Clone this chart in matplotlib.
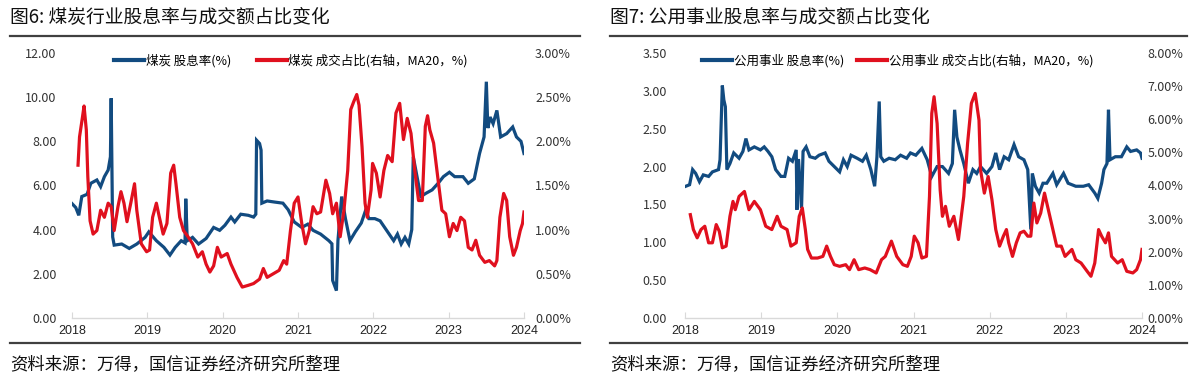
import matplotlib
matplotlib.use("Agg")
import matplotlib.pyplot as plt
from matplotlib.lines import Line2D
from matplotlib.ticker import FuncFormatter, MultipleLocator
import numpy as np

plt.rcParams['font.family'] = ['Noto Sans CJK SC', 'DejaVu Sans']

# ---- coal: dividend yield (left axis, %) ----
coal_div_t = [2018.00, 2018.05, 2018.09, 2018.13, 2018.20, 2018.25, 2018.33, 2018.38, 2018.43, 2018.48,
              2018.51, 2018.52, 2018.54, 2018.56, 2018.66, 2018.76, 2018.86, 2018.97, 2019.02, 2019.12,
              2019.22, 2019.30, 2019.37, 2019.45, 2019.50, 2019.51, 2019.53, 2019.60, 2019.68, 2019.78,
              2019.88, 2019.96, 2020.03, 2020.11, 2020.16, 2020.24, 2020.34, 2020.41, 2020.44, 2020.45,
              2020.49, 2020.51, 2020.52, 2020.59, 2020.69, 2020.80, 2020.87, 2020.95, 2021.05, 2021.13,
              2021.20, 2021.30, 2021.41, 2021.45, 2021.46, 2021.51, 2021.53, 2021.58, 2021.63, 2021.69,
              2021.76, 2021.84, 2021.90, 2021.94, 2022.02, 2022.09, 2022.17, 2022.27, 2022.32, 2022.37,
              2022.42, 2022.47, 2022.51, 2022.53, 2022.58, 2022.63, 2022.70, 2022.78, 2022.86, 2022.93,
              2023.01, 2023.08, 2023.19, 2023.26, 2023.34, 2023.41, 2023.47, 2023.50, 2023.52, 2023.55,
              2023.59, 2023.64, 2023.69, 2023.77, 2023.85, 2023.90, 2023.96, 2024.00]
coal_div = [5.18, 5.0, 4.65, 5.5, 5.6, 6.1, 6.25, 5.95, 6.4, 6.7,
            7.3, 9.95, 3.67, 3.3, 3.35, 3.15, 3.35, 3.65, 3.9, 3.5,
            3.2, 2.85, 3.2, 3.5, 3.4, 5.4, 3.5, 3.65, 3.35, 3.6,
            4.1, 3.97, 4.2, 4.57, 4.35, 4.7, 4.65, 4.57, 4.7, 8.05,
            7.9, 7.6, 5.2, 5.3, 5.25, 5.2, 4.9, 4.35, 4.1, 4.25,
            3.97, 3.8, 3.5, 3.36, 1.7, 1.24, 3.5, 5.5, 4.5, 3.5,
            3.9, 4.3, 4.9, 4.5, 4.5, 4.4, 4.0, 3.5, 3.8, 3.35,
            3.65, 3.35, 4.0, 7.3, 6.4, 5.5, 5.65, 5.8, 6.1, 6.4,
            6.6, 6.4, 6.4, 6.1, 6.3, 7.45, 8.2, 10.7, 8.6, 9.1,
            8.8, 9.4, 8.2, 8.35, 8.65, 8.2, 8.0, 7.45]

# ---- coal: turnover share (right axis, MA20, %) ----
coal_vol_t = [2018.08, 2018.10, 2018.14, 2018.16, 2018.19, 2018.21, 2018.24, 2018.28, 2018.33, 2018.38,
              2018.43, 2018.48, 2018.52, 2018.56, 2018.61, 2018.65, 2018.69, 2018.73, 2018.78, 2018.83,
              2018.86, 2018.92, 2018.99, 2019.03, 2019.07, 2019.12, 2019.16, 2019.21, 2019.26, 2019.31,
              2019.35, 2019.38, 2019.43, 2019.48, 2019.54, 2019.60, 2019.67, 2019.73, 2019.78, 2019.83,
              2019.88, 2019.93, 2019.98, 2020.06, 2020.11, 2020.19, 2020.26, 2020.34, 2020.41, 2020.49,
              2020.54, 2020.59, 2020.67, 2020.75, 2020.81, 2020.85, 2020.90, 2020.95, 2021.00, 2021.05,
              2021.10, 2021.15, 2021.20, 2021.25, 2021.30, 2021.37, 2021.42, 2021.46, 2021.51, 2021.56,
              2021.61, 2021.66, 2021.70, 2021.74, 2021.78, 2021.81, 2021.85, 2021.89, 2021.92, 2021.97,
              2021.99, 2022.04, 2022.09, 2022.14, 2022.19, 2022.25, 2022.30, 2022.35, 2022.40, 2022.45,
              2022.50, 2022.55, 2022.60, 2022.65, 2022.69, 2022.72, 2022.75, 2022.80, 2022.86, 2022.91,
              2022.96, 2023.01, 2023.06, 2023.11, 2023.16, 2023.21, 2023.26, 2023.31, 2023.36, 2023.41,
              2023.48, 2023.54, 2023.61, 2023.64, 2023.68, 2023.73, 2023.77, 2023.81, 2023.86, 2023.90,
              2023.95, 2023.98, 2024.00]
coal_vol = [1.73, 2.05, 2.28, 2.40, 2.13, 1.6, 1.1, 0.95, 0.99, 1.22,
            1.14, 1.3, 1.26, 0.99, 1.26, 1.43, 1.3, 1.09, 1.3, 1.52,
            1.22, 0.84, 0.75, 0.77, 1.14, 1.3, 1.14, 0.95, 1.07, 1.64,
            1.73, 1.52, 1.14, 0.99, 0.92, 0.84, 0.69, 0.75, 0.61, 0.52,
            0.59, 0.80, 0.69, 0.73, 0.61, 0.46, 0.35, 0.37, 0.39, 0.44,
            0.56, 0.46, 0.5, 0.54, 0.65, 0.61, 0.99, 1.3, 1.37, 1.07,
            0.84, 0.99, 1.26, 1.18, 1.2, 1.56, 1.41, 1.18, 1.3, 0.92,
            1.22, 1.67, 2.36, 2.45, 2.53, 2.41, 1.94, 1.3, 1.14, 1.45,
            1.75, 1.64, 1.37, 1.67, 1.84, 1.77, 2.32, 2.43, 2.02, 2.26,
            2.09, 1.67, 1.33, 1.33, 2.17, 2.29, 2.13, 1.98, 1.56, 1.22,
            1.18, 0.92, 1.07, 0.99, 1.14, 1.1, 0.8, 0.77, 0.88, 0.71,
            0.63, 0.65, 0.59, 0.65, 1.14, 1.41, 1.33, 0.92, 0.71, 0.8,
            0.99, 1.07, 1.2]

# ---- utilities: dividend yield (left axis, %) ----
util_div_t = [2018.01, 2018.06, 2018.10, 2018.14, 2018.19, 2018.24, 2018.31, 2018.36, 2018.44, 2018.46,
              2018.49, 2018.51, 2018.53, 2018.55, 2018.59, 2018.64, 2018.71, 2018.76, 2018.80, 2018.84,
              2018.91, 2018.99, 2019.04, 2019.09, 2019.14, 2019.19, 2019.26, 2019.31, 2019.36, 2019.41,
              2019.46, 2019.47, 2019.49, 2019.53, 2019.55, 2019.59, 2019.64, 2019.71, 2019.76, 2019.84,
              2019.89, 2019.96, 2020.03, 2020.08, 2020.13, 2020.18, 2020.26, 2020.33, 2020.38, 2020.44,
              2020.49, 2020.52, 2020.55, 2020.57, 2020.61, 2020.68, 2020.76, 2020.83, 2020.91, 2020.96,
              2021.03, 2021.11, 2021.18, 2021.24, 2021.31, 2021.38, 2021.46, 2021.51, 2021.54, 2021.57,
              2021.61, 2021.66, 2021.72, 2021.78, 2021.83, 2021.88, 2021.96, 2022.03, 2022.08, 2022.13,
              2022.19, 2022.25, 2022.32, 2022.38, 2022.45, 2022.50, 2022.54, 2022.56, 2022.60, 2022.65,
              2022.70, 2022.75, 2022.83, 2022.88, 2022.97, 2023.03, 2023.13, 2023.23, 2023.30, 2023.38,
              2023.42, 2023.47, 2023.50, 2023.54, 2023.56, 2023.58, 2023.65, 2023.73, 2023.80, 2023.85,
              2023.93, 2023.98, 2024.00]
util_div = [1.74, 1.76, 1.96, 1.91, 1.80, 1.89, 1.87, 1.93, 1.96, 2.09,
            3.07, 2.88, 2.79, 1.96, 2.04, 2.18, 2.11, 2.20, 2.37, 2.22,
            2.26, 2.22, 2.26, 2.20, 2.13, 1.96, 1.87, 1.87, 2.11, 2.07,
            2.22, 1.43, 2.10, 1.45, 2.20, 2.26, 2.13, 2.11, 2.15, 2.18,
            2.07, 2.00, 1.93, 2.09, 2.00, 2.15, 2.11, 2.07, 2.15, 1.96,
            1.74, 2.13, 2.86, 2.13, 2.07, 2.11, 2.09, 2.15, 2.11, 2.18,
            2.15, 2.24, 2.09, 1.87, 2.00, 2.00, 1.91, 2.04, 2.75, 2.39,
            2.22, 2.04, 1.78, 1.96, 1.91, 2.00, 1.91, 2.00, 2.18, 1.96,
            2.13, 2.09, 2.29, 2.13, 2.09, 1.96, 1.17, 1.91, 1.74, 1.65,
            1.78, 1.78, 1.91, 1.76, 1.91, 1.78, 1.74, 1.74, 1.76, 1.65,
            1.58, 1.78, 1.96, 2.04, 2.75, 2.09, 2.13, 2.13, 2.26, 2.20,
            2.22, 2.18, 2.11]

# ---- utilities: turnover share (right axis, MA20, %) ----
util_vol_t = [2018.07, 2018.11, 2018.16, 2018.21, 2018.26, 2018.31, 2018.36, 2018.41, 2018.45, 2018.49,
              2018.54, 2018.59, 2018.63, 2018.66, 2018.71, 2018.78, 2018.84, 2018.91, 2018.99, 2019.06,
              2019.14, 2019.21, 2019.26, 2019.34, 2019.39, 2019.46, 2019.50, 2019.54, 2019.58, 2019.61,
              2019.66, 2019.74, 2019.81, 2019.86, 2019.91, 2019.96, 2020.03, 2020.11, 2020.16, 2020.22,
              2020.28, 2020.36, 2020.43, 2020.51, 2020.58, 2020.63, 2020.71, 2020.78, 2020.86, 2020.92,
              2020.97, 2021.01, 2021.06, 2021.11, 2021.17, 2021.21, 2021.24, 2021.27, 2021.31, 2021.35,
              2021.38, 2021.42, 2021.47, 2021.53, 2021.59, 2021.66, 2021.71, 2021.76, 2021.81, 2021.86,
              2021.88, 2021.93, 2021.98, 2022.03, 2022.08, 2022.13, 2022.18, 2022.22, 2022.25, 2022.30,
              2022.35, 2022.40, 2022.45, 2022.50, 2022.54, 2022.58, 2022.62, 2022.67, 2022.72, 2022.77,
              2022.83, 2022.88, 2022.94, 2022.99, 2023.08, 2023.13, 2023.20, 2023.28, 2023.33, 2023.38,
              2023.43, 2023.47, 2023.52, 2023.56, 2023.60, 2023.68, 2023.74, 2023.80, 2023.88, 2023.93,
              2023.98, 2024.00]
util_vol = [3.12, 2.67, 2.42, 2.67, 2.77, 2.27, 2.27, 2.82, 2.62, 2.12,
            2.17, 3.07, 3.52, 3.27, 3.67, 3.82, 3.27, 3.52, 3.27, 2.77,
            2.67, 3.07, 2.77, 2.67, 2.17, 2.27, 3.07, 3.32, 2.67, 2.07,
            1.81, 1.81, 1.86, 2.17, 1.86, 1.61, 1.56, 1.61, 1.46, 1.76,
            1.46, 1.51, 1.46, 1.36, 1.76, 1.86, 2.32, 1.86, 1.61, 1.56,
            1.86, 2.47, 2.27, 1.81, 1.86, 3.67, 6.18, 6.68, 5.87, 3.87,
            3.07, 3.37, 2.77, 3.07, 2.37, 3.67, 5.27, 6.48, 6.78, 5.97,
            4.47, 3.77, 4.27, 3.57, 2.67, 2.17, 2.47, 2.67, 2.27, 1.86,
            2.27, 2.57, 2.62, 2.47, 2.47, 3.47, 2.87, 3.17, 3.77, 3.27,
            2.67, 2.17, 2.17, 1.86, 2.07, 1.76, 1.66, 1.41, 1.26, 1.66,
            2.67, 2.47, 2.27, 2.57, 1.86, 1.66, 1.76, 1.41, 1.36, 1.46,
            1.76, 2.07]

years = [2018, 2019, 2020, 2021, 2022, 2023, 2024]

BLUE = '#124b80'
RED = '#e0101e'
W, H = 1195, 379

fig = plt.figure(figsize=(W / 100, H / 100), dpi=100)


def panel(px0, px1, line_x0, line_x1, title, name, div_t, div, vol_t, vol,
          lmax, lstep, rmax, rstep, lpad, rpad, leg_x, colsp):
    ax = fig.add_axes([px0 / W, 1 - 318 / H, (px1 - px0) / W, (318 - 53) / H])
    ax2 = ax.twinx()
    ax.plot(div_t, div, color=BLUE, lw=2.3, solid_joinstyle='miter')
    ax2.plot(vol_t, vol, color=RED, lw=2.3)

    ax.set_xlim(2018, 2024)
    ax.set_ylim(0, lmax)
    ax2.set_ylim(0, rmax)
    ax.yaxis.set_major_locator(MultipleLocator(lstep))
    ax2.yaxis.set_major_locator(MultipleLocator(rstep))
    ax.yaxis.set_major_formatter(FuncFormatter(lambda v, p: '%.2f' % v))
    ax2.yaxis.set_major_formatter(FuncFormatter(lambda v, p: '%.2f%%' % v))
    ax.set_xticks(years)
    ax.set_xticklabels([str(y) for y in years])

    for a in (ax, ax2):
        for s in ('top', 'left', 'right'):
            a.spines[s].set_visible(False)
    ax2.spines['bottom'].set_visible(False)
    ax.spines['bottom'].set_color('#d9d9d9')
    ax.spines['bottom'].set_linewidth(1.0)
    ax.tick_params(axis='x', direction='in', length=4, color='#d9d9d9',
                   labelsize=9, pad=5, labelcolor='#222222')
    ax.tick_params(axis='y', length=0, labelsize=9, pad=lpad, labelcolor='#333333')
    ax2.tick_params(axis='y', length=0, labelsize=9, pad=rpad, labelcolor='#333333')
    for lab in ax.get_xticklabels():
        lab.set_family(['Liberation Sans', 'DejaVu Sans'])
        lab.set_fontsize(9)

    handles = [Line2D([], [], color=BLUE, lw=3), Line2D([], [], color=RED, lw=3)]
    labels = [name + ' 股息率(%)', name + ' 成交占比(右轴，MA20，%)']
    ax2.legend(handles, labels, loc='center', bbox_to_anchor=(leg_x, 0.97), ncol=2,
               frameon=False, fontsize=9, handlelength=2.4, handletextpad=0.15,
               columnspacing=colsp, borderaxespad=0)

    fig.text(line_x0 / W, 1 - 17 / H, title, fontsize=13.5, va='center', ha='left', color='#111111')
    fig.add_artist(Line2D([line_x0 / W, line_x1 / W], [1 - 36 / H] * 2, color='#404040', lw=1.6))
    fig.add_artist(Line2D([line_x0 / W, line_x1 / W], [1 - 343 / H] * 2, color='#404040', lw=1.6))
    fig.text(line_x0 / W, 1 - 364 / H, '资料来源：万得，国信证券经济研究所整理',
             fontsize=12.5, va='center', ha='left', color='#111111')


panel(72, 524, 10, 580, '图6: 煤炭行业股息率与成交额占比变化', '煤炭',
      coal_div_t, coal_div, coal_vol_t, coal_vol, 12, 2, 3, 0.5, 11, 8, 0.485, 2.0)
panel(685, 1142, 610, 1187, '图7: 公用事业股息率与成交额占比变化', '公用事业',
      util_div_t, util_div, util_vol_t, util_vol, 3.5, 0.5, 8, 1, 13, 4, 0.465, 1.0)

fig.savefig('out.png', dpi=100)
